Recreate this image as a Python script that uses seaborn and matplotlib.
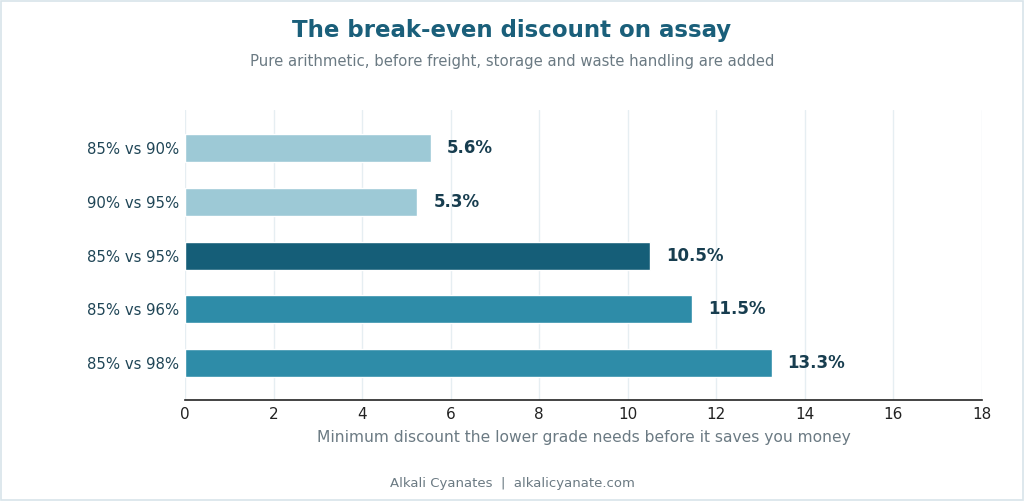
import matplotlib
matplotlib.use("Agg")
import matplotlib.pyplot as plt
import seaborn as sns
import pandas as pd

pairs = ["85% vs 90%", "90% vs 95%", "85% vs 95%", "85% vs 96%", "85% vs 98%"]
discounts = [5.55, 5.25, 10.5, 11.45, 13.25]
value_labels = ["5.6%", "5.3%", "10.5%", "11.5%", "13.3%"]
bar_colors = ["#9dc9d6", "#9dc9d6", "#155e78", "#2e8ca8", "#2e8ca8"]
x_ticks = [0, 2, 4, 6, 8, 10, 12, 14, 16, 18]

sns.set_theme(style="white")
plt.rcParams['font.family'] = ['DejaVu Sans']

df = pd.DataFrame({"pair": pairs, "discount": discounts})

fig = plt.figure(figsize=(10.24, 5.01), dpi=100)
ax = fig.add_axes([185/1024, 1 - 400/501, (982-185)/1024, (400-110)/501])

sns.barplot(data=df, y="pair", x="discount", hue="pair", palette=bar_colors,
            legend=False, width=0.52, ax=ax, saturation=1, orient="h")

for i, (v, lab) in enumerate(zip(discounts, value_labels)):
    ax.text(v + 0.36, i, lab, va="center", ha="left", fontsize=12,
            fontweight="bold", color="#173d4f")

ax.set_xlim(0, 18)
ax.set_ylim(4.69, -0.71)
ax.set_xticks(x_ticks)
ax.set_xticklabels([str(t) for t in x_ticks], fontsize=11, color="#222222")
ax.tick_params(axis="y", labelsize=10.7, colors="#1f4556", length=0, pad=4)
ax.tick_params(axis="x", length=0, pad=5)
ax.set_ylabel("")
ax.set_xlabel("Minimum discount the lower grade needs before it saves you money",
              fontsize=11.2, color="#6b7a83", labelpad=6)
ax.xaxis.grid(True, color="#e6eef2", linewidth=1)
ax.set_axisbelow(True)
for s in ["top", "right", "left"]:
    ax.spines[s].set_visible(False)
ax.spines["bottom"].set_color("#222222")
ax.spines["bottom"].set_linewidth(1.2)

fig.text(0.5, 1 - 31/501, "The break-even discount on assay", ha="center", va="center",
         fontsize=16.5, fontweight="bold", color="#1a5f7a")
fig.text(0.5, 1 - 62/501, "Pure arithmetic, before freight, storage and waste handling are added",
         ha="center", va="center", fontsize=10.7, color="#6b7a83")
fig.text(0.5, 1 - 484/501, "Alkali Cyanates  |  alkalicyanate.com", ha="center", va="center",
         fontsize=9.5, color="#6b7a83")

border = plt.Rectangle((0.0005, 0.001), 0.999, 0.998, transform=fig.transFigure,
                       fill=False, edgecolor="#d8e4ea", linewidth=1.2)
fig.patches.append(border)

fig.savefig("out.png", dpi=100)
